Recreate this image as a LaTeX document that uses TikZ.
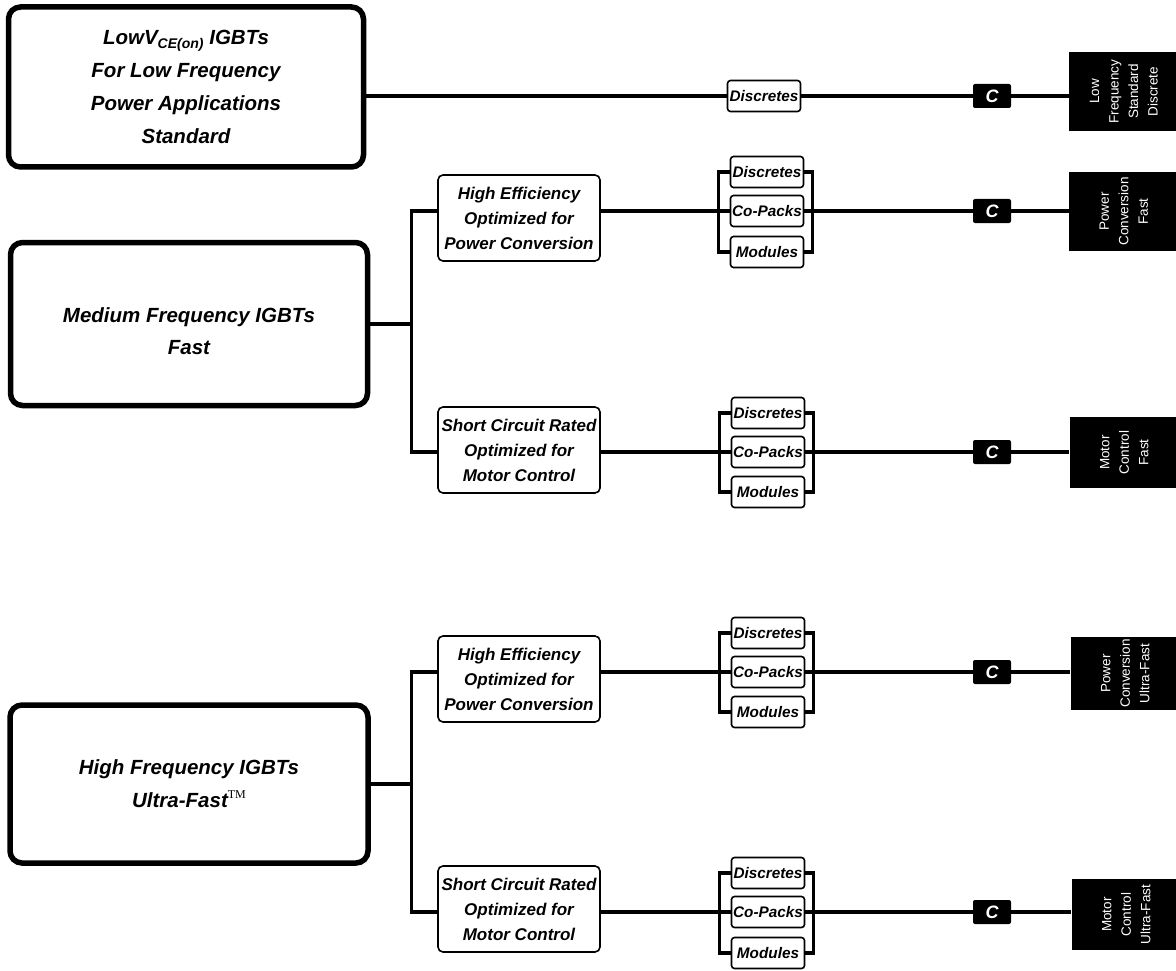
\documentclass[tikz,border=0pt]{standalone}
\usepackage{fontspec}
\setmainfont{Liberation Sans}
\newfontfamily\tmfont{Liberation Serif}
\newcommand{\bktext}[2]{\rotatebox{90}{\begin{tabular}{@{}c@{}}#1\end{tabular}}\hspace{#2pt}}
\tikzset{
  big/.style={draw, fill=white, line width=5.5pt, rounded corners=12pt, align=center,
    font=\fontsize{20.5}{33}\selectfont\bfseries\itshape},
  mid/.style={draw, fill=white, line width=1.6pt, rounded corners=5pt, minimum width=162,
    minimum height=86, align=center, inner sep=1pt, font=\fontsize{17}{25}\selectfont\bfseries\itshape},
  pk/.style={draw, fill=white, line width=1.6pt, rounded corners=3pt, minimum width=73,
    minimum height=31, inner sep=0pt, font=\fontsize{15.3}{15}\selectfont\bfseries\itshape},
  cbox/.style={fill=black, rounded corners=2pt, minimum width=38, minimum height=24,
    inner sep=0pt, text=white, font=\fontsize{18}{18}\selectfont\bfseries\itshape},
  bk/.style={fill=black, minimum width=111, inner sep=0pt, text=white,
    font=\fontsize{13.5}{19.5}\selectfont},
  conn/.style={line width=3.3pt}
}
\begin{document}
\begin{tikzpicture}[x=1pt,y=-1pt]
\useasboundingbox[fill=white] (0,0) rectangle (1176,971);
% main boxes
\node[big, minimum width=355, minimum height=160] (lf) at (186,87)
  {LowV\raisebox{-4pt}{\fontsize{14}{14}\selectfont CE(on)} IGBTs\\For Low Frequency\\Power Applications\\Standard};
\node[big, minimum width=357, minimum height=163] (mf) at (189,324)
  {\raisebox{-13pt}[0pt][0pt]{\begin{tabular}{@{}c@{}}Medium Frequency IGBTs\\[-1pt]Fast\end{tabular}}};
\node[big, minimum width=358, minimum height=158] (hf) at (189,784)
  {High Frequency IGBTs\\Ultra-Fast{\tmfont\mdseries\upshape\raisebox{9pt}{\fontsize{12}{12}\selectfont TM}}};
% second level
\node[mid] (he1) at (519,218) {High Efficiency\\Optimized for\\Power Conversion};
\node[mid] (sc1) at (519,450) {Short Circuit Rated\\Optimized for\\Motor Control};
\node[mid] (he2) at (519,679) {High Efficiency\\Optimized for\\Power Conversion};
\node[mid] (sc2) at (519,909) {Short Circuit Rated\\Optimized for\\Motor Control};
% packages
\node[pk] (d1) at (764,96) {Discretes};
\node[pk] (ds2) at (767,172) {Discretes};
\node[pk] (cp2) at (767,211) {Co-Packs};
\node[pk] (md2) at (767,252) {Modules};
\node[pk] (ds3) at (768,413) {Discretes};
\node[pk] (cp3) at (768,452) {Co-Packs};
\node[pk] (md3) at (768,492) {Modules};
\node[pk] (ds4) at (768,633) {Discretes};
\node[pk] (cp4) at (768,672) {Co-Packs};
\node[pk] (md4) at (768,712) {Modules};
\node[pk] (ds5) at (768,873) {Discretes};
\node[pk] (cp5) at (768,912) {Co-Packs};
\node[pk] (md5) at (768,953) {Modules};
% C boxes
\node[cbox] (c1) at (992,96) {C};
\node[cbox] (c2) at (992,211) {C};
\node[cbox] (c3) at (992,452) {C};
\node[cbox] (c4) at (992,672) {C};
\node[cbox] (c5) at (992,912) {C};
% black end boxes
\node[bk, minimum height=79] (bk1) at (1124.5,91.5) {\bktext{Low\\Frequency\\Standard\\Discrete}{29}};
\node[bk, minimum height=79] (bk2) at (1124.5,211.5) {\bktext{Power\\Conversion\\Fast}{33}};
\node[bk, minimum height=71] (bk3) at (1125,452.5) {\bktext{Motor\\Control\\Fast}{25}};
\node[bk, minimum height=73] (bk4) at (1126,673.5) {\bktext{Power\\Conversion\\Ultra-Fast}{29}};
\node[bk, minimum height=71] (bk5) at (1127,914.5) {\bktext{Motor\\Control\\Ultra-Fast}{13}};
% connectors: top row
\draw[conn] (lf.east |- d1) -- (d1.west);
\draw[conn] (d1.east) -- (c1.west);
\draw[conn] (c1.east) -- (bk1.west |- c1);
% trunks
\draw[conn] (mf.east) -- ++(41,0) coordinate (t1);
\draw[conn] (he1.west |- cp2) -| (t1) |- (sc1.west |- cp3);
\draw[conn] (hf.east) -- ++(41,0) coordinate (t2);
\draw[conn] (he2.west |- cp4) -| (t2) |- (sc2.west |- cp5);
% groups
\draw[conn] (he1.east |- cp2) -- (cp2.west);
\draw[conn] (ds2.west) -- ++(-11,0) |- (md2.west);
\draw[conn] (ds2.east) -- ++(8,0) |- (md2.east);
\draw[conn] (cp2.east) -- (c2.west);
\draw[conn] (c2.east) -- (bk2.west |- c2);
\draw[conn] (sc1.east |- cp3) -- (cp3.west);
\draw[conn] (ds3.west) -- ++(-11,0) |- (md3.west);
\draw[conn] (ds3.east) -- ++(8,0) |- (md3.east);
\draw[conn] (cp3.east) -- (c3.west);
\draw[conn] (c3.east) -- (bk3.west |- c3);
\draw[conn] (he2.east |- cp4) -- (cp4.west);
\draw[conn] (ds4.west) -- ++(-11,0) |- (md4.west);
\draw[conn] (ds4.east) -- ++(8,0) |- (md4.east);
\draw[conn] (cp4.east) -- (c4.west);
\draw[conn] (c4.east) -- (bk4.west |- c4);
\draw[conn] (sc2.east |- cp5) -- (cp5.west);
\draw[conn] (ds5.west) -- ++(-11,0) |- (md5.west);
\draw[conn] (ds5.east) -- ++(8,0) |- (md5.east);
\draw[conn] (cp5.east) -- (c5.west);
\draw[conn] (c5.east) -- (bk5.west |- c5);
\end{tikzpicture}
\end{document}
